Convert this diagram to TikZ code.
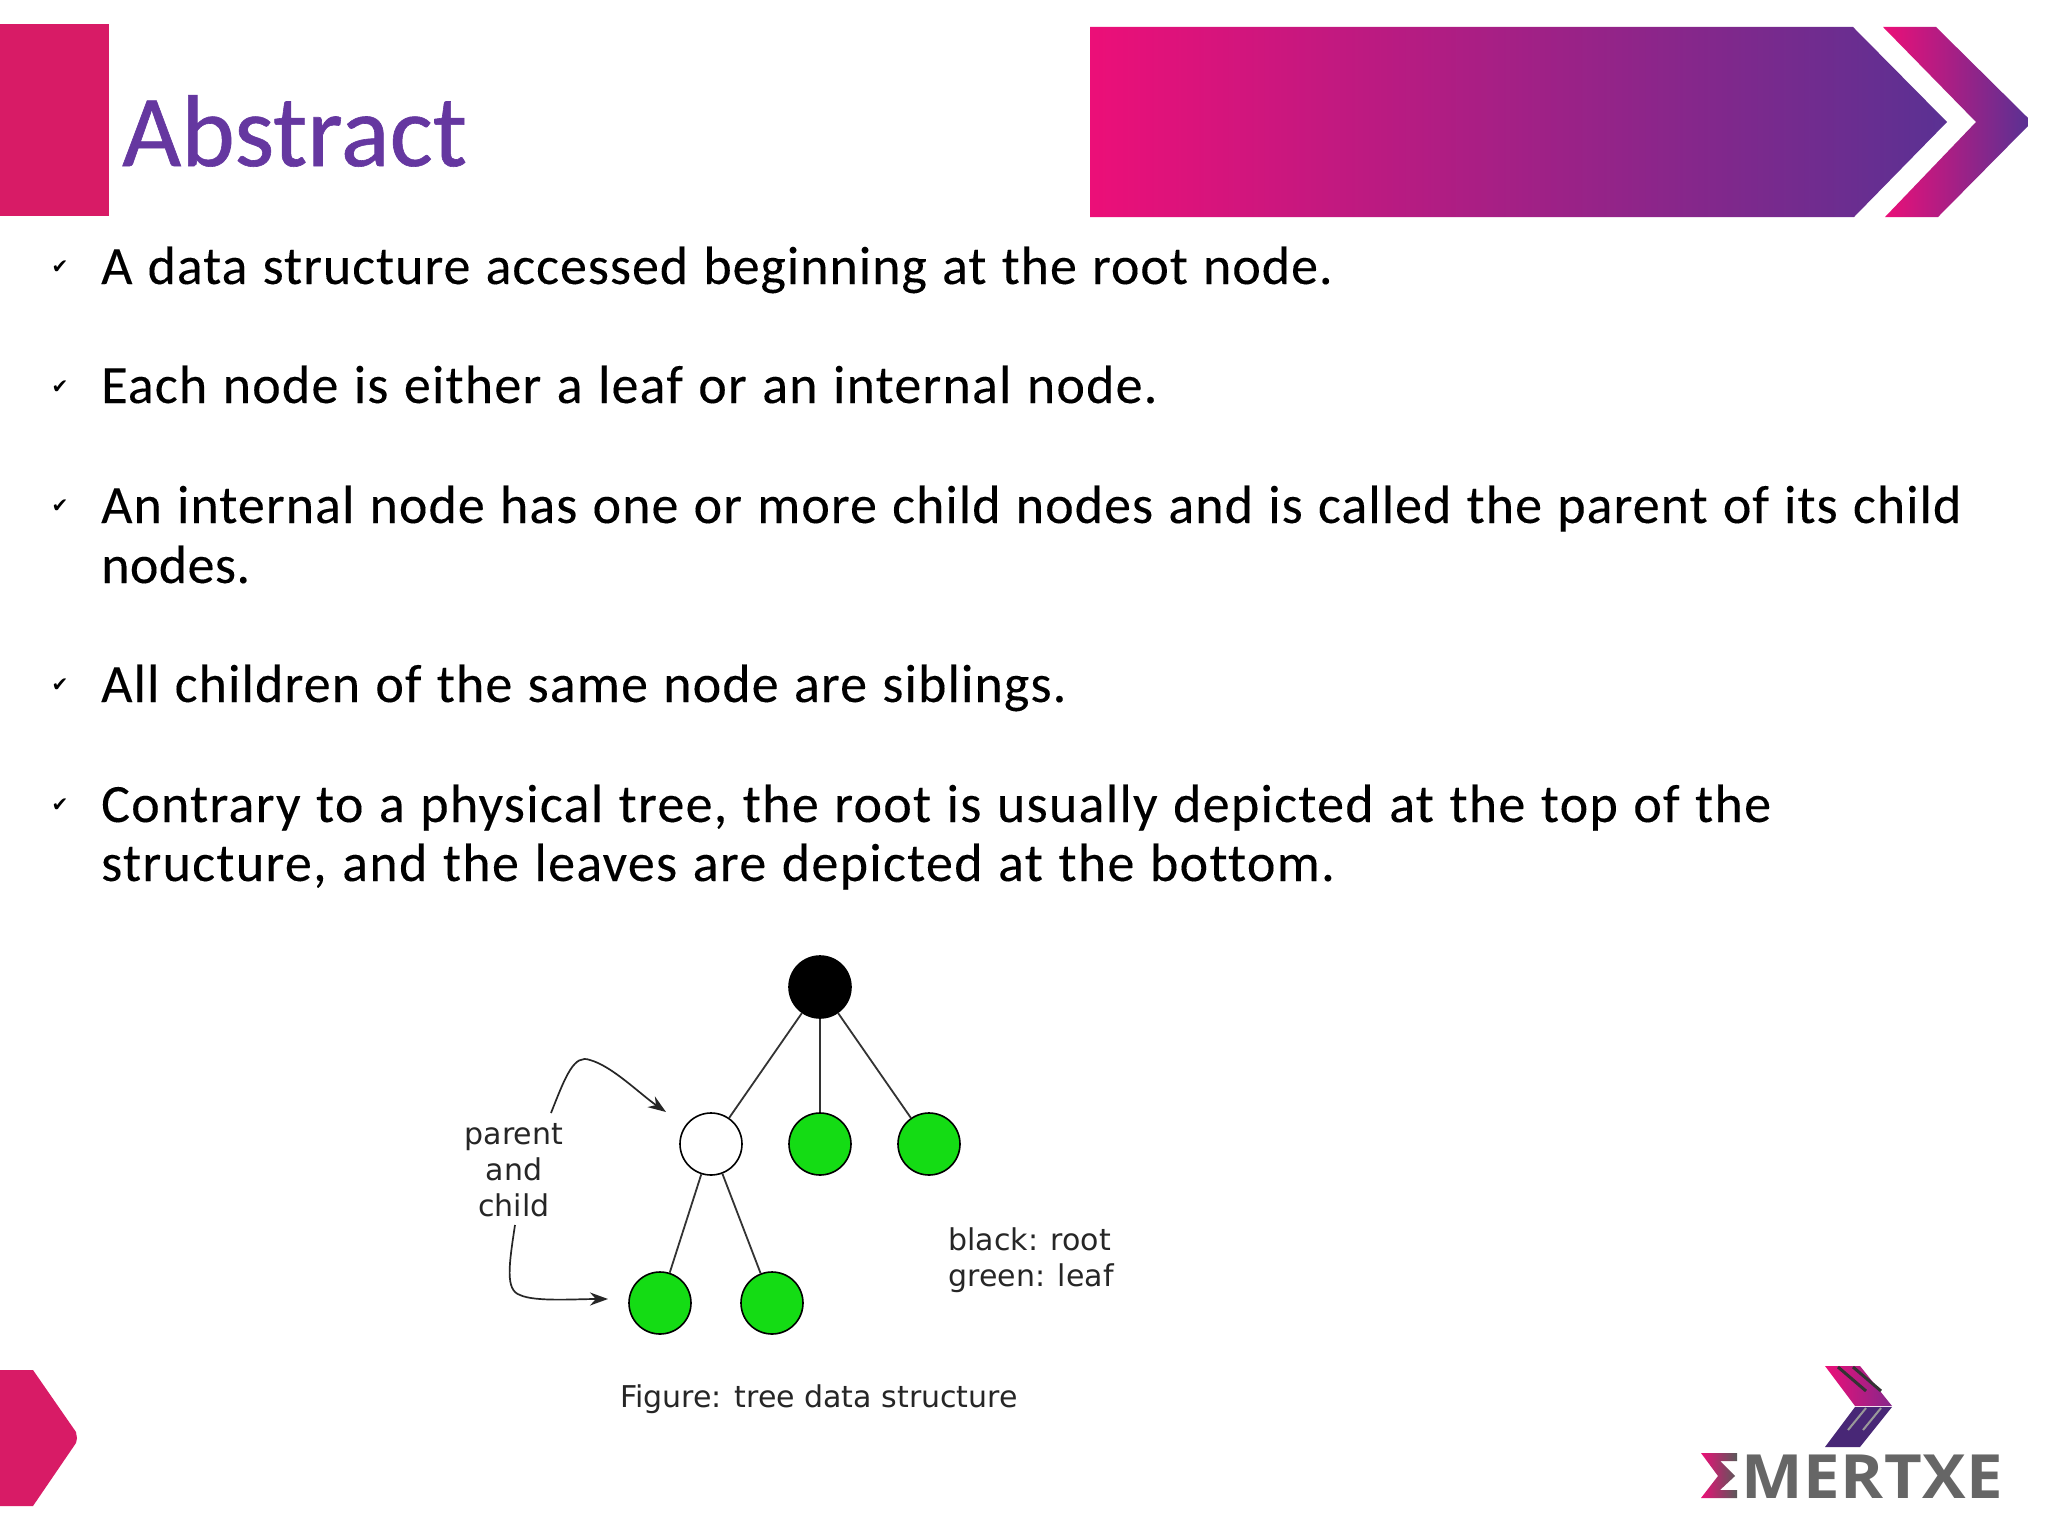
\documentclass[tikz,border=0pt]{standalone}
\usepackage{fontspec}
\setmainfont{Carlito}
\newfontfamily\bodyfont{Carlito}[WordSpace=1.15,FakeBold=0.15,Ligatures=NoCommon]
\newfontfamily\titlefont{Carlito}[FakeBold=0.6,Ligatures=NoCommon]
\newfontfamily\treefont{DejaVu Sans}
\newfontfamily\checkfont{DejaVu Sans}
\newfontfamily\logofont{Open Sans}[FakeStretch=1.07,LetterSpace=1]
\newcommand\lsp[1]{\addfontfeature{LetterSpace=#1}}
\usetikzlibrary{arrows.meta}
\definecolor{pinkbar}{HTML}{D81B66}
\definecolor{gpink}{HTML}{EC0F78}
\definecolor{gpurple}{HTML}{5A3193}
\definecolor{titlec}{HTML}{6537A0}
\definecolor{leafg}{HTML}{14DC14}
\definecolor{logogray}{HTML}{666666}
\tikzset{
 x=1pt,y=-1pt,
 bodyline/.style={anchor=base west,inner sep=0pt,font=\bodyfont\fontsize{54}{60}\selectfont,text=black},
 tick/.style={anchor=center,inner sep=0pt,font=\checkfont\fontsize{20}{20}\selectfont,text=black},
 treenode/.style={circle,draw=black,line width=1.6pt,minimum size=62pt,inner sep=0pt},
 leaf/.style={treenode,fill=leafg},
 edgeline/.style={line width=1.8pt,draw=black!80},
 callout/.style={line width=1.7pt,draw=black!85,-{Stealth[length=18pt,width=13pt]}},
 treelabel/.style={inner sep=0pt,align=center,font=\treefont\fontsize{30}{36}\selectfont,text=black!85},
}
\begin{document}
\begin{tikzpicture}
\useasboundingbox (0,0) rectangle (2048,1536);
\fill[white] (0,0) rectangle (2048,1536);
% header
\fill[pinkbar] (0,24) rectangle (109,216);
\node[anchor=base west,inner sep=0pt,text=titlec,font=\titlefont\fontsize{102}{102}\selectfont] (title) at (122,166) {Abstract};
\shade[left color=gpink,right color=gpurple] (1090,27) -- (1853,27) -- (1947,122) -- (1854,217) -- (1090,217) -- cycle;
\shade[left color=gpink,right color=gpurple] (1883,27) -- (1936,27) -- (2028,118) -- (2028,126) -- (1938,217) -- (1885,217) -- (1976,122) -- cycle;
% bullets
\node[tick] (c1) at (60,267) {✔};
\node[tick] (c2) at (60,387) {✔};
\node[tick] (c3) at (60,506) {✔};
\node[tick] (c4) at (60,685) {✔};
\node[tick] (c5) at (60,805) {✔};
\node[bodyline] (t1) at (101,284) {\lsp{1.78}A data structure accessed beginning at the root node.};
\node[bodyline] (t2) at (101,403) {\lsp{2.22}Each node is either a leaf or an internal node.};
\node[bodyline] (t3) at (101,523) {\lsp{1.92}An internal node has one or more child nodes and is called the parent of its child};
\node[bodyline] (t3b) at (101,583) {\lsp{0.8}nodes.};
\node[bodyline] (t4) at (101,702) {\lsp{2.05}All children of the same node are siblings.};
\node[bodyline] (t5) at (101,822) {\lsp{2.39}Contrary to a physical tree, the root is usually depicted at the top of the};
\node[bodyline] (t5b) at (101,881) {\lsp{2.44}structure, and the leaves are depicted at the bottom.};
% tree
\node[treenode,fill=black] (root) at (820,987) {};
\node[treenode,fill=white] (par) at (711,1144) {};
\node[leaf] (l1) at (820,1144) {};
\node[leaf] (l2) at (929,1144) {};
\node[leaf] (l3) at (660,1303) {};
\node[leaf] (l4) at (772,1303) {};
\draw[edgeline] (root) -- (par);
\draw[edgeline] (root) -- (l1);
\draw[edgeline] (root) -- (l2);
\draw[edgeline] (par) -- (l3);
\draw[edgeline] (par) -- (l4);
\node[treelabel] (pc) at (514,1170) {parent\\and\\child};
\node[treelabel,align=left] (key) at (1031,1260) {black: root\\green: leaf};
\node[treelabel] (fig) at (819,1399) {Figure: tree data structure};
\coordinate (a1s) at (551,1113);
\coordinate (a1e) at (666,1112);
\coordinate (a2s) at (515,1225);
\coordinate (a2e) at (608,1299);
\draw[callout] (a1s) .. controls (566,1075) and (574,1054) .. (590,1060) .. controls (612,1066) and (640,1094) .. (a1e);
\draw[callout] (a2s) .. controls (509,1265) and (505,1290) .. (520,1295) .. controls (535,1302) and (575,1299) .. (a2e);
% bottom-left
\fill[pinkbar] (0,1370) -- (33,1370) -- (76,1432) -- (77,1438) -- (76,1443) -- (33,1506) -- (0,1506) -- cycle;
% logo
\shade[left color=gpink,right color=gpurple!70!gpink] (1825,1366) -- (1860,1366) -- (1892,1406) -- (1855,1406) -- cycle;
\fill[gpurple!80!black] (1855,1407) -- (1892,1407) -- (1860,1447) -- (1825,1447) -- cycle;
\foreach \dx in {0,15}{
 \draw[black!80,line width=3pt] (1838+\dx,1367) -- (1866+\dx,1391);
 \draw[black!40,line width=2pt] (1866+\dx,1408) -- (1848+\dx,1430);
}
\shade[left color=gpink,right color=black!65] (1701,1453) -- (1737,1453) -- (1737,1461) -- (1720,1461) -- (1735,1476) -- (1720,1490) -- (1737,1490) -- (1737,1498) -- (1701,1498) -- (1718,1476) -- cycle;
\node[anchor=base west,inner sep=0pt,text=logogray,font=\logofont\bfseries\fontsize{61}{61}\selectfont] (logo) at (1741,1498) {MERTXE};
\end{tikzpicture}
\end{document}
